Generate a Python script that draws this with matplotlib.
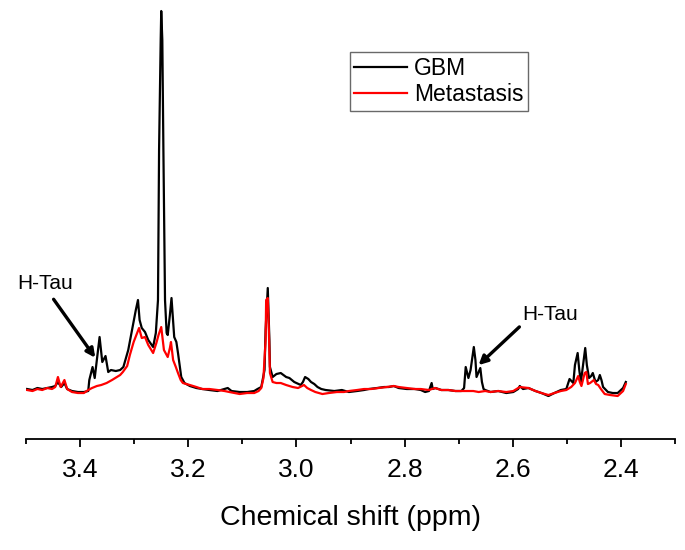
import numpy as np
import matplotlib.pyplot as plt

plt.rcParams['font.family'] = ['Liberation Sans', 'DejaVu Sans']

# Chemical shift (ppm) and intensity (a.u.)
gbm_ppm = [3.498, 3.488, 3.479, 3.470, 3.461, 3.452, 3.446, 3.441, 3.435, 3.429,
           3.424, 3.415, 3.404, 3.393, 3.385, 3.383, 3.377, 3.373, 3.364, 3.359,
           3.353, 3.348, 3.343, 3.334, 3.326, 3.320, 3.311, 3.304, 3.301, 3.297,
           3.293, 3.290, 3.286, 3.280, 3.274, 3.265, 3.260, 3.256, 3.254, 3.251,
           3.250, 3.248, 3.246, 3.243, 3.240, 3.238, 3.234, 3.231, 3.226, 3.222,
           3.219, 3.213, 3.207, 3.197, 3.185, 3.174, 3.161, 3.146, 3.127, 3.120,
           3.105, 3.091, 3.078, 3.072, 3.065, 3.059, 3.057, 3.053, 3.050, 3.049,
           3.044, 3.037, 3.029, 3.019, 3.013, 3.004, 2.992, 2.988, 2.984, 2.978,
           2.973, 2.967, 2.961, 2.954, 2.946, 2.930, 2.916, 2.903, 2.888, 2.875,
           2.866, 2.851, 2.838, 2.829, 2.820, 2.811, 2.796, 2.781, 2.770, 2.762,
           2.755, 2.750, 2.748, 2.743, 2.732, 2.719, 2.706, 2.695, 2.690, 2.687,
           2.682, 2.678, 2.674, 2.672, 2.669, 2.667, 2.663, 2.660, 2.657, 2.654,
           2.651, 2.641, 2.627, 2.612, 2.599, 2.590, 2.587, 2.581, 2.571, 2.558,
           2.547, 2.534, 2.523, 2.511, 2.501, 2.495, 2.488, 2.485, 2.480, 2.477,
           2.474, 2.470, 2.466, 2.463, 2.459, 2.455, 2.452, 2.447, 2.442, 2.439,
           2.436, 2.433, 2.424, 2.415, 2.406, 2.396, 2.391]
gbm_int = [1, 0, 2, 1, 2, 3, 4, 8, 3, 7,
           1, -1, -2, -2, -1, 10, 23, 12, 53, 28,
           34, 18, 20, 19, 20, 23, 40, 60, 68, 80,
           90, 70, 62, 58, 50, 43, 57, 90, 240, 350,
           379, 350, 240, 90, 57, 55, 75, 92, 53, 48,
           37, 13, 7, 4, 2, 1, 0, -1, 2, -1,
           -2, -2, -1, 1, 3, 20, 60, 102, 50, 23,
           13, 16, 17, 13, 12, 8, 5, 8, 13, 11,
           8, 6, 3, 1, 0, -1, 0, -2, -1, 0,
           1, 2, 3, 3, 4, 2, 1, 1, 0, -2,
           -1, 7, 1, 2, 0, 0, -1, -1, 2, 23,
           12, 20, 35, 43, 30, 13, 18, 22, 8, 1,
           0, -2, -1, -3, -2, 1, 4, 1, 2, -1,
           -3, -6, -3, 0, 1, 11, 7, 25, 37, 20,
           8, 25, 42, 25, 12, 14, 17, 8, 10, 15,
           10, 3, -2, -3, -3, 2, 8]

met_ppm = [3.498, 3.488, 3.479, 3.470, 3.461, 3.452, 3.446, 3.441, 3.436, 3.429,
           3.424, 3.415, 3.404, 3.393, 3.385, 3.378, 3.369, 3.361, 3.351, 3.341,
           3.332, 3.326, 3.321, 3.313, 3.308, 3.301, 3.291, 3.286, 3.280, 3.274,
           3.265, 3.259, 3.255, 3.250, 3.245, 3.238, 3.234, 3.232, 3.228, 3.223,
           3.219, 3.214, 3.210, 3.197, 3.185, 3.174, 3.161, 3.146, 3.133, 3.124,
           3.105, 3.091, 3.078, 3.070, 3.065, 3.061, 3.057, 3.056, 3.053, 3.051,
           3.049, 3.044, 3.037, 3.029, 3.019, 3.007, 2.997, 2.986, 2.980, 2.973,
           2.965, 2.952, 2.940, 2.925, 2.912, 2.903, 2.888, 2.875, 2.862, 2.848,
           2.833, 2.820, 2.811, 2.796, 2.781, 2.770, 2.755, 2.744, 2.732, 2.719,
           2.706, 2.691, 2.682, 2.673, 2.663, 2.651, 2.641, 2.627, 2.612, 2.599,
           2.587, 2.571, 2.558, 2.547, 2.534, 2.523, 2.511, 2.501, 2.492, 2.485,
           2.479, 2.476, 2.473, 2.467, 2.464, 2.461, 2.457, 2.450, 2.446, 2.442,
           2.437, 2.430, 2.420, 2.406, 2.396, 2.391]
met_int = [0, -1, 1, 0, 2, 1, 3, 13, 3, 10,
           1, -2, -3, -3, 0, 2, 4, 5, 7, 10,
           13, 15, 18, 24, 35, 48, 62, 52, 53, 45,
           37, 47, 55, 63, 40, 33, 42, 48, 30, 23,
           17, 10, 7, 5, 3, 1, 1, 0, -1, -2,
           -4, -3, -3, -1, 2, 12, 50, 90, 92, 60,
           17, 8, 7, 7, 5, 3, 2, 5, 2, 0,
           -2, -4, -3, -2, -2, -1, 0, 1, 1, 2,
           3, 4, 3, 2, 1, 1, 0, 2, 0, 0,
           -1, -1, -1, -1, -2, -1, -2, -1, -2, -1,
           3, 2, -1, -3, -5, -3, -1, 0, 3, 7,
           14, 8, 4, 17, 18, 6, 7, 10, 6, 5,
           1, -4, -5, -6, -1, 6]

fig = plt.figure(figsize=(6.85, 5.5), dpi=100)
ax = fig.add_axes([0.038, 0.2018, 0.9474, 0.7836])

ax.plot(gbm_ppm, gbm_int, color='black', lw=1.6, label='GBM')
ax.plot(met_ppm, met_int, color='red', lw=1.6, label='Metastasis')

ax.set_xlim(3.5, 2.3)
ax.set_ylim(-49, 382)

for s in ['left', 'right', 'top']:
    ax.spines[s].set_visible(False)
ax.spines['bottom'].set_linewidth(1.3)
ax.set_yticks([])
ax.set_xticks(np.arange(2.4, 3.41, 0.2))
ax.set_xticks(np.arange(2.3, 3.51, 0.1), minor=True)
ax.xaxis.set_major_formatter(plt.FormatStrFormatter('%.1f'))
ax.tick_params(axis='x', which='major', length=6, width=1.3, labelsize=19, pad=8)
ax.tick_params(axis='x', which='minor', length=3.5, width=1.3)
ax.set_xlabel('Chemical shift (ppm)', fontsize=20.5, labelpad=16)

leg = ax.legend(loc='upper left', bbox_to_anchor=(0.499, 0.898), borderaxespad=0,
                fontsize=16.5, frameon=True, fancybox=False, handlelength=2.3,
                handletextpad=0.3, borderpad=0.2, labelspacing=0.15)
leg.get_frame().set_edgecolor('#444444')
leg.get_frame().set_linewidth(1.0)

# H-Tau annotations
ax.text(3.464, 107, 'H-Tau', fontsize=15, ha='center', va='center')
ax.annotate('', xy=(3.369, 30), xytext=(3.452, 93),
            arrowprops=dict(arrowstyle='-|>', color='black', lw=2.4, mutation_scale=13))
ax.text(2.531, 76, 'H-Tau', fontsize=15, ha='center', va='center')
ax.annotate('', xy=(2.667, 23), xytext=(2.584, 65),
            arrowprops=dict(arrowstyle='-|>', color='black', lw=2.4, mutation_scale=13))

plt.savefig('out.png', dpi=100)
